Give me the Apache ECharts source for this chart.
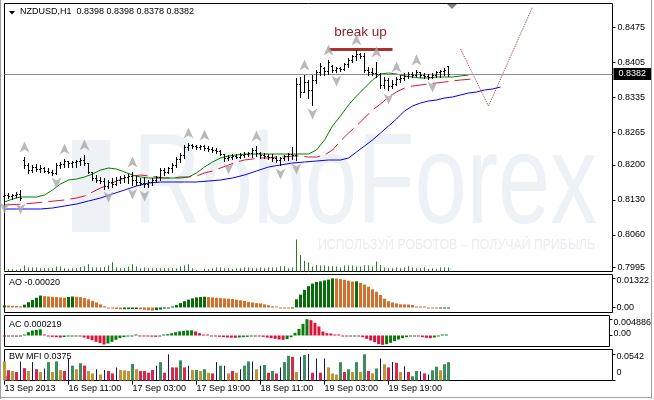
<!DOCTYPE html>
<html>
<head>
<meta charset="utf-8">
<title>NZDUSD,H1</title>
<script src="https://cdn.jsdelivr.net/npm/echarts@6/dist/echarts.min.js"></script>
<style>
  html, body { margin: 0; padding: 0; background: #fff; }
  #chart { width: 654px; height: 400px; }
</style>
</head>
<body>
<div id="chart"></div>
<script>
// bar open / high / low / close, one row per H1 bar
const ohlc = [
  [0.8138, 0.8146, 0.8132, 0.8140], [0.8140, 0.8144, 0.8134, 0.8138], [0.8138, 0.8142, 0.8132, 0.8140],
  [0.8140, 0.8146, 0.8136, 0.8142], [0.8142, 0.8150, 0.8130, 0.8134], [0.8210, 0.8216, 0.8194, 0.8200],
  [0.8200, 0.8204, 0.8184, 0.8190], [0.8190, 0.8200, 0.8186, 0.8196], [0.8196, 0.8202, 0.8188, 0.8192],
  [0.8192, 0.8200, 0.8186, 0.8194], [0.8194, 0.8196, 0.8186, 0.8188], [0.8188, 0.8194, 0.8184, 0.8186],
  [0.8186, 0.8190, 0.8180, 0.8184], [0.8184, 0.8204, 0.8182, 0.8200], [0.8200, 0.8206, 0.8194, 0.8202],
  [0.8202, 0.8212, 0.8196, 0.8208], [0.8208, 0.8208, 0.8196, 0.8204], [0.8204, 0.8208, 0.8196, 0.8206],
  [0.8206, 0.8210, 0.8196, 0.8208], [0.8208, 0.8214, 0.8200, 0.8210], [0.8210, 0.8220, 0.8200, 0.8204],
  [0.8204, 0.8204, 0.8184, 0.8186], [0.8186, 0.8186, 0.8170, 0.8174], [0.8174, 0.8180, 0.8166, 0.8170],
  [0.8170, 0.8176, 0.8164, 0.8168], [0.8168, 0.8174, 0.8152, 0.8158], [0.8158, 0.8170, 0.8154, 0.8166],
  [0.8166, 0.8174, 0.8156, 0.8162], [0.8162, 0.8176, 0.8160, 0.8170], [0.8170, 0.8178, 0.8164, 0.8174],
  [0.8174, 0.8180, 0.8166, 0.8176], [0.8176, 0.8182, 0.8164, 0.8178], [0.8178, 0.8186, 0.8160, 0.8170],
  [0.8170, 0.8178, 0.8160, 0.8166], [0.8166, 0.8174, 0.8160, 0.8164], [0.8164, 0.8176, 0.8156, 0.8162],
  [0.8162, 0.8170, 0.8156, 0.8166], [0.8166, 0.8174, 0.8160, 0.8170], [0.8170, 0.8178, 0.8166, 0.8176],
  [0.8176, 0.8194, 0.8170, 0.8190], [0.8190, 0.8194, 0.8180, 0.8186], [0.8186, 0.8196, 0.8184, 0.8194],
  [0.8194, 0.8204, 0.8186, 0.8200], [0.8200, 0.8216, 0.8196, 0.8212], [0.8212, 0.8224, 0.8206, 0.8220],
  [0.8220, 0.8240, 0.8214, 0.8236], [0.8236, 0.8244, 0.8230, 0.8240], [0.8240, 0.8242, 0.8234, 0.8238],
  [0.8238, 0.8240, 0.8232, 0.8236], [0.8236, 0.8240, 0.8232, 0.8238], [0.8238, 0.8240, 0.8230, 0.8234],
  [0.8234, 0.8238, 0.8228, 0.8232], [0.8232, 0.8236, 0.8226, 0.8230], [0.8230, 0.8234, 0.8224, 0.8228],
  [0.8228, 0.8230, 0.8220, 0.8222], [0.8222, 0.8222, 0.8208, 0.8214], [0.8214, 0.8220, 0.8210, 0.8216],
  [0.8216, 0.8222, 0.8212, 0.8218], [0.8218, 0.8222, 0.8214, 0.8216], [0.8216, 0.8224, 0.8214, 0.8220],
  [0.8220, 0.8226, 0.8216, 0.8222], [0.8222, 0.8226, 0.8218, 0.8224], [0.8224, 0.8234, 0.8216, 0.8230],
  [0.8230, 0.8238, 0.8218, 0.8224], [0.8224, 0.8226, 0.8214, 0.8220], [0.8220, 0.8224, 0.8214, 0.8218],
  [0.8218, 0.8222, 0.8212, 0.8216], [0.8216, 0.8222, 0.8208, 0.8214], [0.8214, 0.8218, 0.8206, 0.8210],
  [0.8210, 0.8216, 0.8200, 0.8214], [0.8214, 0.8220, 0.8210, 0.8218], [0.8218, 0.8224, 0.8210, 0.8222],
  [0.8222, 0.8236, 0.8212, 0.8220], [0.8220, 0.8374, 0.8210, 0.8362], [0.8362, 0.8376, 0.8336, 0.8346],
  [0.8346, 0.8380, 0.8346, 0.8366], [0.8366, 0.8370, 0.8334, 0.8350], [0.8350, 0.8380, 0.8320, 0.8370],
  [0.8370, 0.8390, 0.8364, 0.8386], [0.8386, 0.8404, 0.8380, 0.8398], [0.8394, 0.8396, 0.8380, 0.8388],
  [0.8388, 0.8410, 0.8382, 0.8406], [0.8398, 0.8400, 0.8386, 0.8390], [0.8390, 0.8396, 0.8386, 0.8394],
  [0.8394, 0.8396, 0.8388, 0.8392], [0.8392, 0.8404, 0.8390, 0.8402], [0.8402, 0.8414, 0.8396, 0.8410],
  [0.8410, 0.8420, 0.8406, 0.8418], [0.8418, 0.8430, 0.8410, 0.8422], [0.8422, 0.8424, 0.8414, 0.8418],
  [0.8418, 0.8424, 0.8386, 0.8390], [0.8390, 0.8396, 0.8380, 0.8386], [0.8386, 0.8394, 0.8380, 0.8384],
  [0.8384, 0.8406, 0.8376, 0.8382], [0.8382, 0.8384, 0.8354, 0.8360], [0.8360, 0.8376, 0.8354, 0.8370],
  [0.8370, 0.8374, 0.8350, 0.8358], [0.8358, 0.8370, 0.8354, 0.8362], [0.8362, 0.8376, 0.8360, 0.8372],
  [0.8372, 0.8380, 0.8366, 0.8374], [0.8374, 0.8384, 0.8370, 0.8378], [0.8378, 0.8386, 0.8374, 0.8382],
  [0.8382, 0.8386, 0.8376, 0.8380], [0.8380, 0.8390, 0.8378, 0.8386], [0.8386, 0.8386, 0.8376, 0.8380],
  [0.8380, 0.8384, 0.8374, 0.8378], [0.8378, 0.8382, 0.8372, 0.8376], [0.8376, 0.8384, 0.8374, 0.8380],
  [0.8380, 0.8388, 0.8376, 0.8386], [0.8386, 0.8390, 0.8376, 0.8388], [0.8388, 0.8394, 0.8380, 0.8390],
  [0.8398, 0.8398, 0.8378, 0.8382]
]

const volume = [
  85, 119, 119, 85, 136, 306, 204, 204, 204, 170,
  170, 170, 170, 255, 255, 170, 136, 170, 170, 238,
  272, 374, 204, 204, 204, 238, 306, 476, 204, 170,
  170, 255, 374, 255, 170, 204, 170, 170, 170, 170,
  170, 170, 170, 170, 255, 306, 374, 170, 85, 34,
  136, 136, 170, 204, 204, 170, 170, 136, 170, 170,
  204, 204, 170, 170, 204, 170, 204, 204, 204, 272,
  272, 170, 204, 1649, 850, 544, 459, 255, 340, 306,
  306, 272, 272, 255, 204, 306, 306, 306, 255, 255,
  306, 306, 255, 510, 340, 204, 170, 170, 204, 170,
  204, 272, 204, 170, 170, 204, 136, 170, 136, 204,
  204, 204
]

// alligator lines as [bar, price]
const jaw = [[0, 0.8112], [3, 0.8112], [6, 0.8112], [9, 0.8112], [12, 0.8114], [15, 0.8118], [18, 0.8122], [21, 0.8128],
  [24, 0.8134], [27, 0.8142], [30, 0.8150], [33, 0.8158], [36, 0.8164], [39, 0.8166], [42, 0.8166], [45, 0.8166],
  [48, 0.8166], [51, 0.8168], [54, 0.8170], [57, 0.8174], [60, 0.8180], [63, 0.8188], [66, 0.8196], [69, 0.8200],
  [72, 0.8204], [75, 0.8206], [78, 0.8208], [81, 0.8210], [84, 0.8210], [86, 0.8214], [88, 0.8226], [90, 0.8238],
  [92, 0.8250], [94, 0.8264], [96, 0.8278], [98, 0.8292], [100, 0.8308], [102, 0.8318], [104, 0.8324], [106, 0.8328],
  [108, 0.8330], [110, 0.8334], [112, 0.8336], [114, 0.8340], [116, 0.8344], [118, 0.8346], [120, 0.8350], [122, 0.8352],
  [124, 0.8356]]
const teeth = [[0, 0.8120], [5, 0.8122], [10, 0.8126], [15, 0.8130], [18, 0.8134], [20, 0.8138], [22, 0.8146], [24, 0.8154],
  [26, 0.8160], [28, 0.8168], [30, 0.8174], [32, 0.8178], [34, 0.8180], [36, 0.8178], [38, 0.8176], [40, 0.8174],
  [42, 0.8174], [44, 0.8176], [46, 0.8176], [48, 0.8178], [50, 0.8184], [52, 0.8188], [54, 0.8194], [56, 0.8200],
  [58, 0.8206], [60, 0.8210], [62, 0.8212], [64, 0.8214], [66, 0.8214], [68, 0.8216], [70, 0.8216], [72, 0.8218],
  [74, 0.8218], [76, 0.8216], [78, 0.8216], [80, 0.8220], [82, 0.8230], [84, 0.8248], [86, 0.8264], [88, 0.8278],
  [90, 0.8294], [92, 0.8310], [94, 0.8322], [96, 0.8336], [98, 0.8346], [100, 0.8354], [102, 0.8358], [104, 0.8360],
  [106, 0.8362], [108, 0.8364], [110, 0.8366], [112, 0.8368], [114, 0.8370], [117, 0.8372]]
const lips = [[0, 0.8126], [2, 0.8132], [4, 0.8136], [6, 0.8136], [8, 0.8136], [10, 0.8140], [12, 0.8150], [14, 0.8162],
  [16, 0.8170], [18, 0.8172], [20, 0.8176], [22, 0.8182], [24, 0.8190], [26, 0.8194], [28, 0.8192], [30, 0.8186],
  [32, 0.8180], [34, 0.8176], [36, 0.8174], [38, 0.8174], [40, 0.8174], [42, 0.8174], [44, 0.8174], [46, 0.8176],
  [48, 0.8184], [50, 0.8196], [52, 0.8206], [54, 0.8214], [56, 0.8218], [58, 0.8220], [60, 0.8222], [64, 0.8222],
  [68, 0.8222], [72, 0.8222], [76, 0.8222], [78, 0.8230], [80, 0.8250], [82, 0.8278], [84, 0.8298], [86, 0.8320],
  [88, 0.8338], [90, 0.8354], [92, 0.8370], [94, 0.8382], [96, 0.8384], [98, 0.8382], [100, 0.8378], [102, 0.8376],
  [104, 0.8374], [106, 0.8374], [108, 0.8376], [110, 0.8376], [112, 0.8376], [114, 0.8378], [116, 0.8380]]

const fractalUp = [5, 15, 20, 32, 46, 50, 63, 75, 81, 88, 93, 98, 103]
const fractalDown = [0, 4, 13, 26, 32, 35, 56, 69, 73, 77, 83, 96, 107]

// hand drawn analysis: breakout level and the projected path
const breakUp = { from: 81, to: 97, level: 0.8431 }
const forecast = [[114, 0.8432], [121, 0.8318], [132, 0.8516]]

const ao = [
  0.00100, 0.00086, 0.00072, 0.00070, 0.00057, 0.00129, 0.00243, 0.00343, 0.00443, 0.00543,
  0.00515, 0.00500, 0.00486, 0.00472, 0.00458, 0.00450, 0.00480, 0.00500, 0.00490, 0.00472,
  0.00430, 0.00372, 0.00300, 0.00229, 0.00143, 0.00060, -0.00015, -0.00050, -0.00070, -0.00085,
  -0.00080, -0.00075, -0.00072, -0.00070, -0.00085, -0.00105, -0.00125, -0.00143, -0.00120, -0.00090,
  -0.00050, -0.00010, 0.00043, 0.00115, 0.00200, 0.00286, 0.00357, 0.00415, 0.00458, 0.00480,
  0.00490, 0.00472, 0.00458, 0.00443, 0.00429, 0.00415, 0.00400, 0.00386, 0.00357, 0.00329,
  0.00300, 0.00257, 0.00229, 0.00200, 0.00186, 0.00143, 0.00100, 0.00057, 0.00014, -0.00010,
  -0.00020, -0.00030, -0.00015, 0.00372, 0.00586, 0.00800, 0.00972, 0.01086, 0.01158, 0.01187,
  0.01230, 0.01270, 0.01322, 0.01316, 0.01290, 0.01258, 0.01220, 0.01180, 0.01190, 0.01115,
  0.01044, 0.00944, 0.00829, 0.00715, 0.00572, 0.00400, 0.00286, 0.00229, 0.00186, 0.00143,
  0.00140, 0.00135, 0.00114, 0.00043, 0.00014, 0.00005, -0.00010, -0.00030, -0.00040, -0.00033,
  -0.00026, -0.00020
]

const ac = [
  -0.00020, -0.00025, -0.00030, -0.00035, -0.00030, 0.00030, 0.00100, 0.00150, 0.00170, 0.00185,
  0.00010, -0.00020, -0.00040, -0.00050, -0.00060, -0.00045, -0.00030, -0.00020, -0.00010, -0.00030,
  -0.00060, -0.00100, -0.00140, -0.00190, -0.00230, -0.00270, -0.00240, -0.00190, -0.00130, -0.00080,
  -0.00050, -0.00030, -0.00010, 0.00000, -0.00010, -0.00020, -0.00030, -0.00035, -0.00040, -0.00020,
  0.00010, 0.00040, 0.00070, 0.00100, 0.00125, 0.00140, 0.00150, 0.00155, 0.00120, 0.00070,
  0.00030, 0.00000, -0.00020, -0.00030, -0.00040, -0.00050, -0.00060, -0.00065, -0.00070, -0.00060,
  -0.00050, -0.00040, -0.00020, -0.00010, -0.00020, -0.00040, -0.00060, -0.00080, -0.00100, -0.00120,
  -0.00130, -0.00110, -0.00050, 0.00080, 0.00200, 0.00350, 0.00489, 0.00460, 0.00380, 0.00270,
  0.00120, 0.00070, 0.00060, 0.00020, 0.00000, -0.00020, -0.00030, -0.00020, -0.00010, -0.00020,
  -0.00050, -0.00100, -0.00150, -0.00200, -0.00260, -0.00280, -0.00260, -0.00220, -0.00170, -0.00120,
  -0.00080, -0.00050, -0.00030, -0.00020, -0.00030, -0.00050, -0.00070, -0.00080, -0.00060, -0.00030,
  0.00000, 0.000219
]

const mfi = [
  0.0390, 0.0210, 0.0195, 0.0174, 0.0390, 0.0253, 0.0195, 0.0376, 0.0231, 0.0174,
  0.0246, 0.0376, 0.0174, 0.0390, 0.0217, 0.0195, 0.0448, 0.0304, 0.0231, 0.0354,
  0.0304, 0.0195, 0.0145, 0.0231, 0.0123, 0.0217, 0.0195, 0.0145, 0.0268, 0.0217,
  0.0210, 0.0195, 0.0340, 0.0231, 0.0195, 0.0195, 0.0159, 0.0217, 0.0304, 0.0376,
  0.0159, 0.0535, 0.0268, 0.0268, 0.0412, 0.0268, 0.0304, 0.0217, 0.0217, 0.0195,
  0.0231, 0.0159, 0.0145, 0.0376, 0.0304, 0.0304, 0.0145, 0.0195, 0.0159, 0.0231,
  0.0304, 0.0390, 0.0390, 0.0231, 0.0304, 0.0318, 0.0159, 0.0195, 0.0145, 0.0268,
  0.0376, 0.0506, 0.0484, 0.0174, 0.0484, 0.0521, 0.0542, 0.0159, 0.0448, 0.0159,
  0.0448, 0.0268, 0.0145, 0.0123, 0.0376, 0.0174, 0.0231, 0.0174, 0.0376, 0.0174,
  0.0535, 0.0195, 0.0145, 0.0246, 0.0448, 0.0333, 0.0268, 0.0376, 0.0362, 0.0174,
  0.0289, 0.0174, 0.0087, 0.0195, 0.0188, 0.0145, 0.0123, 0.0210, 0.0282, 0.0210,
  0.0333, 0.0375
]
// g = green, b = fade, f = fake, s = squat
const mfiType = 'bsbsfsbfsb' + 'fgbgbsfgbg' + 'sbbfbfssfb' + 'bbgbssssfg' + 'sfssgsfbgb' +
  'gbsfgfbsbf' + 'ggfbfgsgsf' + 'ggsbfgfsfs' + 'fbbbgsgbgb' + 'gsbgfbsfsb' + 'fsggfsfggb' + 'gg'

const xLabels = ['13 Sep 2013', '16 Sep 11:00', '17 Sep 03:00', '17 Sep 19:00', '18 Sep 11:00', '19 Sep 03:00', '19 Sep 19:00']
const priceTicks = [0.7995, 0.8060, 0.8130, 0.8200, 0.8265, 0.8335, 0.8405, 0.8475]
const aoTicks = [0.01322, 0, -0.00228]
const acTicks = [0.004886, 0, -0.002795]
const mfiTicks = [0.0542, 0]

// hourly categories, weekend skipped, 41 empty slots on the right (chart shift)
const months = ['Jan', 'Feb', 'Mar', 'Apr', 'May', 'Jun', 'Jul', 'Aug', 'Sep', 'Oct', 'Nov', 'Dec']
const categories = []
let t = Date.UTC(2013, 8, 13, 19)
while (categories.length < 153) {
  const d = new Date(t)
  const wd = d.getUTCDay()
  if (wd !== 0 && wd !== 6) {
    categories.push(d.getUTCDate() + ' ' + months[d.getUTCMonth()] + ' ' + String(d.getUTCHours()).padStart(2, '0') + ':00')
  }
  t += 3600000
}

const font = '"Liberation Sans", Arial, sans-serif'
const last = ohlc[ohlc.length - 1]
const fmt4 = v => v.toFixed(4)
const arrow = 'path://M5,0L10,11L5,8L0,11Z'

function renderBar (params, api) {
  const i = api.value(0)
  const x = api.coord([i, api.value(1)])[0]
  const yo = Math.round(api.coord([i, api.value(1)])[1]) + 0.5
  const yh = Math.round(api.coord([i, api.value(2)])[1])
  const yl = Math.round(api.coord([i, api.value(3)])[1]) + 1
  const yc = Math.round(api.coord([i, api.value(4)])[1]) + 0.5
  const st = { stroke: '#000', lineWidth: 1 }
  return {
    type: 'group',
    children: [
      { type: 'line', shape: { x1: x, y1: yh, x2: x, y2: yl }, style: st },
      { type: 'line', shape: { x1: x - 1.5, y1: yo, x2: x, y2: yo }, style: st },
      { type: 'line', shape: { x1: x, y1: yc, x2: x + 1.5, y2: yc }, style: st }
    ]
  }
}

function grid (top, height) {
  return { left: 4.5, right: 41.5, top: top, height: height, show: true, borderColor: '#000', borderWidth: 1, backgroundColor: 'transparent' }
}

const showTick = index => index % 16 === 0 && index < ohlc.length

function xAxis (gridIndex, labels) {
  return {
    type: 'category',
    gridIndex: gridIndex,
    data: categories,
    boundaryGap: false,
    axisLine: { show: false },
    splitLine: { show: false },
    axisTick: labels ? { show: true, interval: showTick, length: 4, lineStyle: { color: '#000' } } : { show: false },
    axisLabel: labels
      ? {
          show: true,
          interval: showTick,
          formatter: (v, idx) => xLabels[idx / 16] || '',
          align: 'left',
          margin: 4,
          fontSize: 9,
          color: '#000',
          fontFamily: font
        }
      : { show: false }
  }
}

// sub window value axis; shifts move each label up (-) or down (+) in px
function subAxis (gridIndex, min, max, ticks, fmt, shifts) {
  const rich = {}
  shifts.forEach((d, k) => {
    rich['s' + k] = {
      fontSize: 9,
      fontFamily: font,
      color: '#000',
      padding: d >= 0 ? [2 * d, 0, 0, 0] : [0, 0, -2 * d, 0]
    }
  })
  return {
    type: 'value',
    gridIndex: gridIndex,
    position: 'right',
    min: min,
    max: max,
    splitLine: { show: false },
    axisLine: { show: false },
    axisTick: { show: true, length: 3, customValues: ticks, lineStyle: { color: '#000' } },
    axisLabel: {
      show: true,
      customValues: ticks,
      margin: 4,
      formatter: v => {
        const k = ticks.findIndex(tv => Math.abs(tv - v) < 1e-9)
        return '{s' + Math.max(k, 0) + '|' + fmt(v) + '}'
      },
      rich: rich
    }
  }
}

function barColors (vals, up, down) {
  return vals.map((v, i) => ({ value: v, itemStyle: { color: i === 0 || v > vals[i - 1] ? up : down } }))
}

const mfiColors = { g: '#3c8c5c', b: '#c09632', s: '#d6284c' }

const chart = echarts.init(document.getElementById('chart'))

chart.setOption({
  animation: false,
  backgroundColor: '#fff',
  textStyle: { fontFamily: font },
  title: [
    { text: 'NZDUSD,H1  ' + last.map(fmt4).join(' '), left: 20, top: 7, padding: 0, textStyle: { fontSize: 9, fontWeight: 'normal', color: '#000', fontFamily: font } },
    { text: 'AO ' + ao[ao.length - 1].toFixed(5), left: 9, top: 278, padding: 0, textStyle: { fontSize: 9, fontWeight: 'normal', color: '#000', fontFamily: font } },
    { text: 'AC ' + ac[ac.length - 1].toFixed(6), left: 9, top: 320, padding: 0, textStyle: { fontSize: 9, fontWeight: 'normal', color: '#000', fontFamily: font } },
    { text: 'BW MFI ' + mfi[mfi.length - 1].toFixed(4), left: 9, top: 352, padding: 0, textStyle: { fontSize: 9, fontWeight: 'normal', color: '#000', fontFamily: font } }
  ],
  graphic: [
    // RoboForex watermark
    { type: 'rect', z: 0, silent: true, shape: { x: 72, y: 140, width: 38, height: 92 }, style: { fill: '#eef1f5' } },
    { type: 'text', z: 0, silent: true, x: 133, y: 188, scaleX: 0.733, style: { text: 'RoboForex', fontSize: 128, fontFamily: font, fill: '#eef1f5', align: 'left', verticalAlign: 'middle' } },
    { type: 'text', z: 0, silent: true, x: 318, y: 245, scaleX: 0.88, style: { text: 'ИСПОЛЬЗУЙ РОБОТОВ – ПОЛУЧАЙ ПРИБЫЛЬ', fontSize: 14, fontFamily: font, fill: '#eaedf1', align: 'left', verticalAlign: 'middle' } },
    // window frame and terminal markers
    { type: 'polygon', silent: true, shape: { points: [[9, 11], [15, 11], [12, 14.5]] }, style: { fill: '#000' } },
    { type: 'polygon', silent: true, shape: { points: [[447, 4], [457, 4], [452, 9]] }, style: { fill: '#808080' } },
    { type: 'polygon', silent: true, shape: { points: [[5, 374], [5, 380], [10, 380]] }, style: { fill: '#909090' } },
    { type: 'line', silent: true, shape: { x1: 0.5, y1: 0, x2: 0.5, y2: 399 }, style: { stroke: '#a0a0a0', lineWidth: 1 } },
    { type: 'line', silent: true, shape: { x1: 651.5, y1: 0, x2: 651.5, y2: 399 }, style: { stroke: '#a0a0a0', lineWidth: 1 } },
    { type: 'line', silent: true, shape: { x1: 0, y1: 397.5, x2: 652, y2: 397.5 }, style: { stroke: '#a0a0a0', lineWidth: 1 } }
  ],
  grid: [grid(3.5, 268), grid(274.5, 38), grid(315.5, 31), grid(349.5, 31)],
  xAxis: [xAxis(0, false), xAxis(1, false), xAxis(2, false), xAxis(3, true), xAxis(3, false)],
  yAxis: [
    {
      type: 'value',
      gridIndex: 0,
      position: 'right',
      min: 0.7987,
      max: 0.8523,
      splitLine: { show: false },
      axisLine: { show: false },
      axisTick: { show: true, length: 3, customValues: priceTicks, lineStyle: { color: '#000' } },
      axisLabel: { show: true, customValues: priceTicks, formatter: fmt4, margin: 5, fontSize: 9, color: '#000', fontFamily: font }
    },
    { type: 'value', gridIndex: 0, min: 0, max: 13800, show: false },
    subAxis(1, -0.00228, 0.0150, aoTicks, v => (v === 0 ? '0.00' : v.toFixed(5)), [2, 0, -5]),
    subAxis(2, -0.0033, 0.0060, acTicks, v => (v === 0 ? '0.00' : v.toFixed(6)), [3, -1.5, -4]),
    subAxis(3, 0, 0.0634, mfiTicks, v => (v === 0 ? '0' : v.toFixed(4)), [3, -7.5])
  ],
  series: [
    {
      name: 'Volumes',
      type: 'bar',
      xAxisIndex: 0,
      yAxisIndex: 1,
      data: volume,
      barWidth: 1,
      silent: true,
      z: 1,
      itemStyle: { color: '#2a7a2a' }
    },
    {
      name: 'NZDUSD',
      type: 'custom',
      xAxisIndex: 0,
      yAxisIndex: 0,
      renderItem: renderBar,
      encode: { x: 0, y: [1, 2, 3, 4] },
      data: ohlc.map((d, i) => [i].concat(d)),
      silent: true,
      z: 5
    },
    {
      name: 'Jaw',
      type: 'line',
      xAxisIndex: 0,
      yAxisIndex: 0,
      data: jaw,
      showSymbol: false,
      silent: true,
      z: 4,
      lineStyle: { color: '#0000ff', width: 1 }
    },
    {
      name: 'Teeth',
      type: 'line',
      xAxisIndex: 0,
      yAxisIndex: 0,
      data: teeth,
      showSymbol: false,
      silent: true,
      z: 4,
      lineStyle: { color: '#dc143c', width: 1, type: [16, 6] }
    },
    {
      name: 'Lips',
      type: 'line',
      xAxisIndex: 0,
      yAxisIndex: 0,
      data: lips,
      showSymbol: false,
      silent: true,
      z: 4,
      lineStyle: { color: '#008000', width: 1 },
      markLine: {
        silent: true,
        symbol: ['none', 'none'],
        precision: 4,
        animation: false,
        data: [
          {
            yAxis: last[3],
            lineStyle: { color: '#8c8c8c', width: 1, type: 'solid' },
            label: { show: true, position: 'end', distance: 1, formatter: fmt4(last[3]), color: '#fff', backgroundColor: '#000', padding: [2, 5, 1, 5], fontSize: 9, fontFamily: font }
          },
          [
            {
              coord: [breakUp.from, breakUp.level],
              lineStyle: { color: '#a83232', width: 3, type: 'solid' },
              label: { show: true, position: 'insideMiddleTop', distance: 10, formatter: 'break up', color: '#8b1c1c', fontSize: 13.5, fontFamily: font }
            },
            { coord: [breakUp.to, breakUp.level] }
          ]
        ]
      }
    },
    {
      name: 'Forecast',
      type: 'line',
      xAxisIndex: 0,
      yAxisIndex: 0,
      data: forecast,
      showSymbol: false,
      silent: true,
      z: 4,
      lineStyle: { color: '#9c3b3b', width: 1, type: 'dotted' }
    },
    {
      name: 'Fractals up',
      type: 'scatter',
      xAxisIndex: 0,
      yAxisIndex: 0,
      data: fractalUp.map(i => [i, ohlc[i][1]]),
      symbol: arrow,
      symbolSize: [10, 11],
      symbolOffset: [0, -10],
      silent: true,
      z: 6,
      itemStyle: { color: '#a8a8a8' }
    },
    {
      name: 'Fractals down',
      type: 'scatter',
      xAxisIndex: 0,
      yAxisIndex: 0,
      data: fractalDown.map(i => [i, ohlc[i][2]]),
      symbol: arrow,
      symbolSize: [10, 11],
      symbolRotate: 180,
      symbolOffset: [0, 9],
      silent: true,
      z: 6,
      itemStyle: { color: '#a8a8a8' }
    },
    {
      name: 'AO',
      type: 'bar',
      xAxisIndex: 1,
      yAxisIndex: 2,
      data: barColors(ao, '#0a6b0a', '#d2712e'),
      barWidth: 3,
      barMinHeight: 1,
      silent: true
    },
    {
      name: 'AC',
      type: 'bar',
      xAxisIndex: 2,
      yAxisIndex: 3,
      data: barColors(ac, '#0a7a0a', '#dc143c'),
      barWidth: 3,
      barMinHeight: 1,
      silent: true
    },
    {
      name: 'BW MFI',
      type: 'bar',
      xAxisIndex: 3,
      yAxisIndex: 4,
      data: mfi.map((v, i) => (mfiType[i] === 'f' ? '-' : { value: v, itemStyle: { color: mfiColors[mfiType[i]] } })),
      barWidth: 3,
      silent: true
    },
    {
      name: 'BW MFI fake',
      type: 'bar',
      xAxisIndex: 4,
      yAxisIndex: 4,
      data: mfi.map((v, i) => (mfiType[i] === 'f' ? v : '-')),
      barWidth: 1,
      silent: true,
      itemStyle: { color: '#141478' }
    }
  ]
})
</script>
</body>
</html>
